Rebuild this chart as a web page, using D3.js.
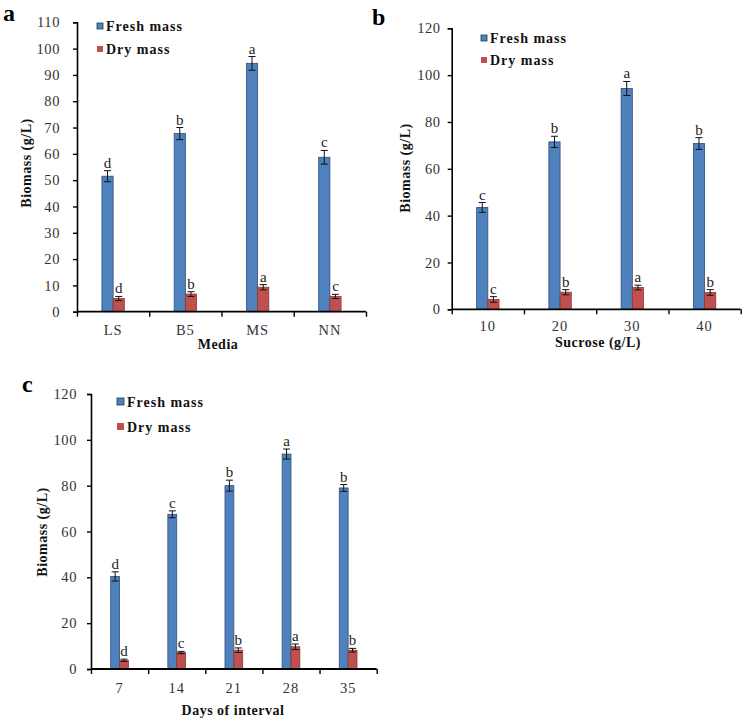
<!DOCTYPE html>
<html><head><meta charset="utf-8">
<script src="https://cdn.jsdelivr.net/npm/d3@7"></script>
<style>
body{margin:0;background:#fff;}
svg{display:block;}
text{font-family:"Liberation Serif","Times New Roman",serif;}
</style></head>
<body><svg id="chart" width="746" height="724"></svg>
<script>
// ---- Panel a: Media ----
const mediaLabels = ["LS","B5","MS","NN"];
const mediaFresh = [51.5,67.7,94.4,58.7];
const mediaFreshErr = [2.1,2.3,2.6,2.6];
const mediaDry = [5.0,6.7,9.3,5.8];
const mediaDryErr = [0.8,0.9,1.0,0.8];
const mediaFreshLetters = ["d","b","a","c"];
const mediaDryLetters = ["d","b","a","c"];
const mediaTicks = [0,10,20,30,40,50,60,70,80,90,100,110];

// ---- Panel b: Sucrose ----
const sucroseLabels = ["10","20","30","40"];
const sucroseFresh = [43.5,71.5,94.3,70.8];
const sucroseFreshErr = [2.1,2.4,3.0,2.5];
const sucroseDry = [4.2,7.3,9.3,7.2];
const sucroseDryErr = [1.2,1.1,1.0,1.2];
const sucroseFreshLetters = ["c","b","a","b"];
const sucroseDryLetters = ["c","b","a","b"];
const sucroseTicks = [0,20,40,60,80,100,120];

// ---- Panel c: Days ----
const daysLabels = ["7","14","21","28","35"];
const daysFresh = [40.4,67.5,80.0,93.8,79.0];
const daysFreshErr = [2.0,1.5,2.4,2.2,1.5];
const daysDry = [3.8,7.2,8.2,9.7,8.2];
const daysDryErr = [0.5,0.5,1.0,1.2,0.8];
const daysFreshLetters = ["d","c","b","a","b"];
const daysDryLetters = ["d","c","b","a","b"];
const daysTicks = [0,20,40,60,80,100,120];

const seriesNames = ["Fresh mass","Dry mass"];
const seriesFill = ["#4F81BD","#C0504D"];
const seriesStroke = ["#2F4F7A","#8C3836"];

const svg = d3.select("#chart");

function drawPanel(p){
  const g = svg.append("g");
  const yMax = p.ticks[p.ticks.length-1];
  const y = d3.scaleLinear().domain([0,yMax]).range([p.y0,p.yTop]);
  const x = d3.scaleBand().domain(p.labels).range([p.x0,p.x1]).padding(0);
  const cw = x.bandwidth();
  const bw = cw*0.155;
  const inner = d3.scaleBand().domain(seriesNames).range([cw/2-bw, cw/2+bw]).padding(0);

  const series = [
    {name:seriesNames[0], vals:p.fresh, errs:p.freshErr, letters:p.freshLetters},
    {name:seriesNames[1], vals:p.dry, errs:p.dryErr, letters:p.dryLetters}
  ];
  series.forEach((s,si)=>{
    const data = p.labels.map((c,i)=>({c, v:s.vals[i], e:s.errs[i], l:s.letters[i]}));
    const sg = g.append("g");
    sg.selectAll("rect").data(data).join("rect")
      .attr("x", d=>x(d.c)+inner(s.name))
      .attr("y", d=>y(d.v))
      .attr("width", inner.bandwidth())
      .attr("height", d=>y(0)-y(d.v))
      .attr("fill", seriesFill[si])
      .attr("stroke", seriesStroke[si])
      .attr("stroke-width", 0.8);
    const cx = d=>x(d.c)+inner(s.name)+inner.bandwidth()/2;
    const eg = sg.append("g").attr("stroke","#111").attr("stroke-width",1);
    eg.selectAll("line.v").data(data).join("line").attr("class","v")
      .attr("x1",cx).attr("x2",cx).attr("y1",d=>y(d.v-d.e)).attr("y2",d=>y(d.v+d.e));
    eg.selectAll("line.t").data(data).join("line").attr("class","t")
      .attr("x1",d=>cx(d)-3.5).attr("x2",d=>cx(d)+3.5).attr("y1",d=>y(d.v+d.e)).attr("y2",d=>y(d.v+d.e));
    eg.selectAll("line.b").data(data).join("line").attr("class","b")
      .attr("x1",d=>cx(d)-3.5).attr("x2",d=>cx(d)+3.5).attr("y1",d=>y(d.v-d.e)).attr("y2",d=>y(d.v-d.e));
    sg.selectAll("text").data(data).join("text")
      .attr("x",cx).attr("y",d=>y(d.v+d.e)-3)
      .attr("text-anchor","middle")
      .attr("font-size",15).attr("fill","#222")
      .text(d=>d.l);
  });

  // y axis
  const ya = g.append("g").attr("transform",`translate(${p.x0},0)`)
    .call(d3.axisLeft(y).tickValues(p.ticks).tickSize(4).tickPadding(p.yPad).tickFormat(d3.format("d")));
  ya.select(".domain").attr("stroke","#000").attr("stroke-width",1.6);
  ya.selectAll(".tick line").attr("stroke","#000").attr("stroke-width",1.4);
  ya.selectAll(".tick text").attr("font-family","Liberation Serif, serif").attr("font-size",14.5)
    .attr("fill","#333").attr("letter-spacing","0.6px");

  // x axis: boundary ticks
  const xb = d3.scaleLinear().domain([0,p.labels.length]).range([p.x0,p.x1]);
  const xa = g.append("g").attr("transform",`translate(0,${p.y0})`)
    .call(d3.axisBottom(xb).ticks(p.labels.length).tickSize(5).tickFormat(""));
  xa.select(".domain").attr("stroke","#000").attr("stroke-width",1.8).attr("d",`M${p.x0},0H${p.x1}`);
  xa.selectAll(".tick line").attr("stroke","#000").attr("stroke-width",1.4);
  const xl = g.append("g").attr("transform",`translate(0,${p.y0})`)
    .call(d3.axisBottom(x).tickSize(0).tickPadding(p.xPad));
  xl.select(".domain").remove();
  xl.selectAll(".tick text").attr("font-family","Liberation Serif, serif").attr("font-size",14.5)
    .attr("fill","#333").attr("letter-spacing","1px");

  // titles
  g.append("text").attr("x",p.xTitle[0]).attr("y",p.xTitle[1]).attr("text-anchor","middle")
    .attr("font-weight","bold").attr("font-size",14).attr("fill","#111").attr("letter-spacing","0.5px")
    .text(p.xTitleText);
  g.append("text").attr("transform",`translate(${p.yTitle[0]},${p.yTitle[1]}) rotate(-90)`)
    .attr("text-anchor","middle").attr("font-weight","bold").attr("font-size",14).attr("fill","#111")
    .attr("letter-spacing","0.5px").text("Biomass (g/L)");
  g.append("text").attr("x",p.tag[0]).attr("y",p.tag[1])
    .attr("font-family","Liberation Sans, Arial, sans-serif").attr("font-weight","bold")
    .attr("font-size",24).attr("fill","#000").text(p.tagText);

  // legend
  const lg = g.append("g");
  seriesNames.forEach((n,i)=>{
    const ly = p.legend[1] + i*p.legend[2];
    lg.append("rect").attr("x",p.legend[0]).attr("y",ly-p.mk-1).attr("width",p.mk).attr("height",p.mk)
      .attr("fill",seriesFill[i]).attr("stroke", i===0? "#1F3552":"none").attr("stroke-width",0.8);
    lg.append("text").attr("x",p.legend[0]+p.mk+3).attr("y",ly+1)
      .attr("font-weight","bold").attr("font-size",14).attr("fill","#111").attr("letter-spacing","1px")
      .text(n);
  });
}

drawPanel({labels:mediaLabels, fresh:mediaFresh, freshErr:mediaFreshErr, dry:mediaDry, dryErr:mediaDryErr,
  freshLetters:mediaFreshLetters, dryLetters:mediaDryLetters, ticks:mediaTicks,
  x0:77, x1:366, y0:311.7, yTop:22.3, yPad:13, xPad:13,
  xTitle:[218,349], xTitleText:"Media", yTitle:[31,163], tag:[3,21], tagText:"a",
  legend:[97,30,23], mk:6});

drawPanel({labels:sucroseLabels, fresh:sucroseFresh, freshErr:sucroseFreshErr, dry:sucroseDry, dryErr:sucroseDryErr,
  freshLetters:sucroseFreshLetters, dryLetters:sucroseDryLetters, ticks:sucroseTicks,
  x0:451.7, x1:740.7, y0:309.3, yTop:28.3, yPad:7, xPad:11,
  xTitle:[598,347], xTitleText:"Sucrose (g/L)", yTitle:[410,168], tag:[372,25], tagText:"b",
  legend:[481,42,22], mk:6});

drawPanel({labels:daysLabels, fresh:daysFresh, freshErr:daysFreshErr, dry:daysDry, dryErr:daysDryErr,
  freshLetters:daysFreshLetters, dryLetters:daysDryLetters, ticks:daysTicks,
  x0:91, x1:376.7, y0:669, yTop:394, yPad:10, xPad:13.5,
  xTitle:[233,715], xTitleText:"Days of interval", yTitle:[47,532], tag:[22,392], tagText:"c",
  legend:[117,406,25], mk:7});
</script></body></html>
